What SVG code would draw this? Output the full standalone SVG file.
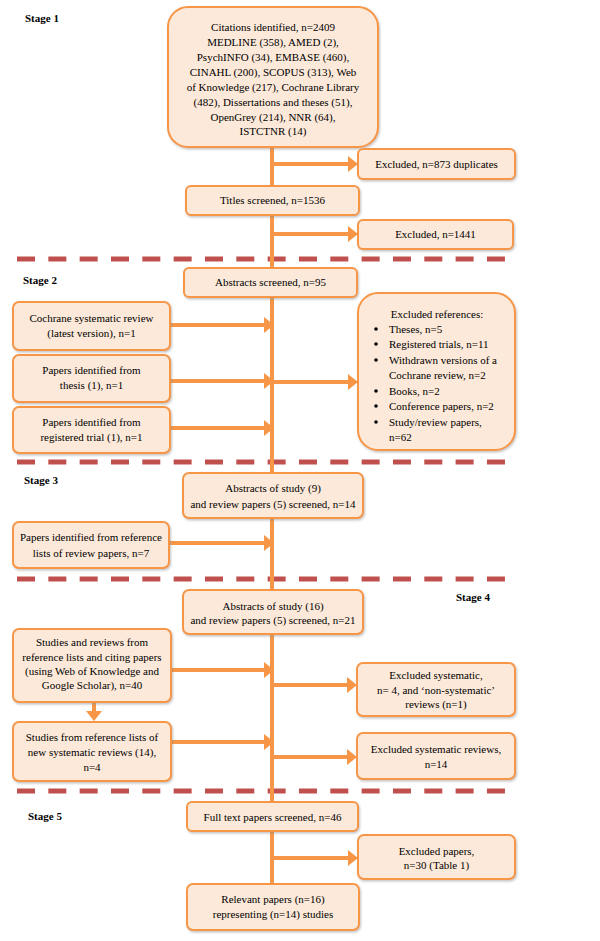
<svg xmlns="http://www.w3.org/2000/svg" width="600" height="941" viewBox="0 0 600 941">
<defs>
<style>
.box{fill:#fde9d9;stroke:#f79646;stroke-width:2;filter:url(#sh)}
.t{font-family:"Liberation Serif","Times New Roman",serif;font-size:11px;fill:#000;text-anchor:middle}
.tl{font-family:"Liberation Serif","Times New Roman",serif;font-size:11px;fill:#000}
.stage{font-family:"Liberation Serif","Times New Roman",serif;font-size:11px;font-weight:bold;fill:#000}
.ln{stroke:#f79646;stroke-width:4;fill:none}
.arr{stroke:#f79646;stroke-width:4;fill:none;marker-end:url(#ah)}
.dash{stroke:#c0504d;stroke-width:5;stroke-dasharray:18 13.33;fill:none}
</style>
<filter id="sh" x="-10%" y="-10%" width="120%" height="130%">
<feDropShadow dx="1" dy="1.5" stdDeviation="1" flood-color="#888" flood-opacity="0.5"/>
</filter>
<marker id="ah" markerUnits="userSpaceOnUse" markerWidth="10" markerHeight="16" refX="0" refY="8" orient="auto">
<path d="M0,0 L10,8 L0,16 z" fill="#f79646"/>
</marker>
</defs>

<g id="separators">
<line class="dash" x1="17" y1="259" x2="505" y2="259"/>
<line class="dash" x1="17" y1="462" x2="505" y2="462"/>
<line class="dash" x1="17" y1="579" x2="505" y2="579"/>
<line class="dash" x1="17" y1="791" x2="505" y2="791"/>
</g>

<g id="stage-labels">
<text class="stage" x="25" y="22">Stage 1</text>
<text class="stage" x="23" y="284">Stage 2</text>
<text class="stage" x="24" y="484">Stage 3</text>
<text class="stage" x="456" y="601">Stage 4</text>
<text class="stage" x="28" y="820">Stage 5</text>
</g>

<g id="connectors">
<line class="ln" x1="272" y1="147" x2="272" y2="884"/>
<line class="arr" x1="272" y1="164" x2="348" y2="164"/>
<line class="arr" x1="272" y1="234" x2="348" y2="234"/>
<line class="arr" x1="170" y1="325" x2="264" y2="325"/>
<line class="arr" x1="170" y1="381" x2="264" y2="381"/>
<line class="arr" x1="272" y1="382" x2="348" y2="382"/>
<line class="arr" x1="170" y1="428" x2="264" y2="428"/>
<line class="arr" x1="169" y1="543" x2="264" y2="543"/>
<line class="arr" x1="171" y1="670" x2="264" y2="670"/>
<line class="arr" x1="272" y1="685" x2="347" y2="685"/>
<line class="arr" x1="171" y1="742" x2="264" y2="742"/>
<line class="arr" x1="272" y1="757" x2="347" y2="757"/>
<line class="arr" x1="272" y1="858" x2="348" y2="858"/>
<line class="arr" x1="94" y1="702" x2="94" y2="711"/>
</g>

<g id="n-citations">
<rect class="box" x="168" y="7" width="210" height="140" rx="20"/>
<text class="t" x="273" y="31">Citations identified, n=2409</text>
<text class="t" x="273" y="46">MEDLINE (358), AMED (2),</text>
<text class="t" x="273" y="61">PsychINFO (34), EMBASE (460),</text>
<text class="t" x="273" y="76">CINAHL (200), SCOPUS (313), Web</text>
<text class="t" x="273" y="91">of Knowledge (217), Cochrane Library</text>
<text class="t" x="273" y="106">(482), Dissertations and theses (51),</text>
<text class="t" x="273" y="121">OpenGrey (214), NNR (64),</text>
<text class="t" x="273" y="135">ISTCTNR (14)</text>
</g>

<g id="n-excl873">
<rect class="box" x="358" y="149" width="157" height="30" rx="5"/>
<text class="t" x="436.5" y="168">Excluded, n=873 duplicates</text>
</g>

<g id="n-titles">
<rect class="box" x="186" y="186" width="173" height="29" rx="5"/>
<text class="t" x="272.5" y="204">Titles screened, n=1536</text>
</g>

<g id="n-excl1441">
<rect class="box" x="358" y="220" width="155" height="29" rx="5"/>
<text class="t" x="435.5" y="238">Excluded, n=1441</text>
</g>

<g id="n-abs95">
<rect class="box" x="184" y="268" width="173" height="29" rx="5"/>
<text class="t" x="270.5" y="286">Abstracts screened, n=95</text>
</g>

<g id="n-cochrane">
<rect class="box" x="13" y="302" width="157" height="48" rx="6"/>
<text class="t" x="91.5" y="322">Cochrane systematic review</text>
<text class="t" x="91.5" y="337">(latest version), n=1</text>
</g>

<g id="n-exclrefs">
<rect class="box" x="358" y="293" width="157" height="157" rx="20"/>
<text class="t" x="437" y="318">Excluded references:</text>
<g fill="#000">
<circle cx="376" cy="329" r="1.8"/>
<circle cx="376" cy="344" r="1.8"/>
<circle cx="376" cy="360" r="1.8"/>
<circle cx="376" cy="391" r="1.8"/>
<circle cx="376" cy="406" r="1.8"/>
<circle cx="376" cy="422" r="1.8"/>
</g>
<text class="tl" x="389" y="333">Theses, n=5</text>
<text class="tl" x="389" y="348">Registered trials, n=11</text>
<text class="tl" x="389" y="364">Withdrawn versions of a</text>
<text class="tl" x="389" y="379">Cochrane review, n=2</text>
<text class="tl" x="389" y="395">Books, n=2</text>
<text class="tl" x="389" y="410">Conference papers, n=2</text>
<text class="tl" x="389" y="426">Study/review papers,</text>
<text class="tl" x="389" y="441">n=62</text>
</g>

<g id="n-thesis">
<rect class="box" x="13" y="355" width="157" height="47" rx="6"/>
<text class="t" x="91.5" y="374">Papers identified from</text>
<text class="t" x="91.5" y="389">thesis (1), n=1</text>
</g>

<g id="n-trial">
<rect class="box" x="13" y="407" width="157" height="46" rx="6"/>
<text class="t" x="91.5" y="426">Papers identified from</text>
<text class="t" x="91.5" y="441">registered trial (1), n=1</text>
</g>

<g id="n-abs14">
<rect class="box" x="183" y="473" width="180" height="45" rx="6"/>
<text class="t" x="273" y="492">Abstracts of study (9)</text>
<text class="t" x="273" y="508">and review papers (5) screened, n=14</text>
</g>

<g id="n-reflists">
<rect class="box" x="13" y="522" width="156" height="46" rx="6"/>
<text class="t" x="91" y="541">Papers identified from reference</text>
<text class="t" x="91" y="557">lists of review papers, n=7</text>
</g>

<g id="n-abs21">
<rect class="box" x="183" y="590" width="180" height="44" rx="6"/>
<text class="t" x="273" y="610">Abstracts of study (16)</text>
<text class="t" x="273" y="624">and review papers (5) screened, n=21</text>
</g>

<g id="n-studies40">
<rect class="box" x="13" y="629" width="158" height="73" rx="6"/>
<text class="t" x="92" y="646">Studies and reviews from</text>
<text class="t" x="92" y="661">reference lists and citing papers</text>
<text class="t" x="92" y="675">(using Web of Knowledge and</text>
<text class="t" x="92" y="689">Google Scholar), n=40</text>
</g>

<g id="n-exclsys">
<rect class="box" x="357" y="663" width="158" height="53" rx="6"/>
<text class="t" x="436" y="679">Excluded systematic,</text>
<text class="t" x="436" y="694">n= 4, and ‘non-systematic’</text>
<text class="t" x="436" y="708">reviews (n=1)</text>
</g>

<g id="n-studies4">
<rect class="box" x="13" y="722" width="158" height="59" rx="6"/>
<text class="t" x="92" y="741">Studies from reference lists of</text>
<text class="t" x="92" y="756">new systematic reviews (14),</text>
<text class="t" x="92" y="771">n=4</text>
</g>

<g id="n-exclsys14">
<rect class="box" x="357" y="733" width="158" height="46" rx="6"/>
<text class="t" x="436" y="753">Excluded systematic reviews,</text>
<text class="t" x="436" y="768">n=14</text>
</g>

<g id="n-fulltext">
<rect class="box" x="187" y="802" width="171" height="29" rx="5"/>
<text class="t" x="272.5" y="821">Full text papers screened, n=46</text>
</g>

<g id="n-excl30">
<rect class="box" x="358" y="835" width="157" height="44" rx="6"/>
<text class="t" x="436.5" y="855">Excluded papers,</text>
<text class="t" x="436.5" y="869">n=30 (Table 1)</text>
</g>

<g id="n-relevant">
<rect class="box" x="187" y="884" width="172" height="46" rx="6"/>
<text class="t" x="273" y="903">Relevant papers (n=16)</text>
<text class="t" x="273" y="918">representing (n=14) studies</text>
</g>
</svg>
